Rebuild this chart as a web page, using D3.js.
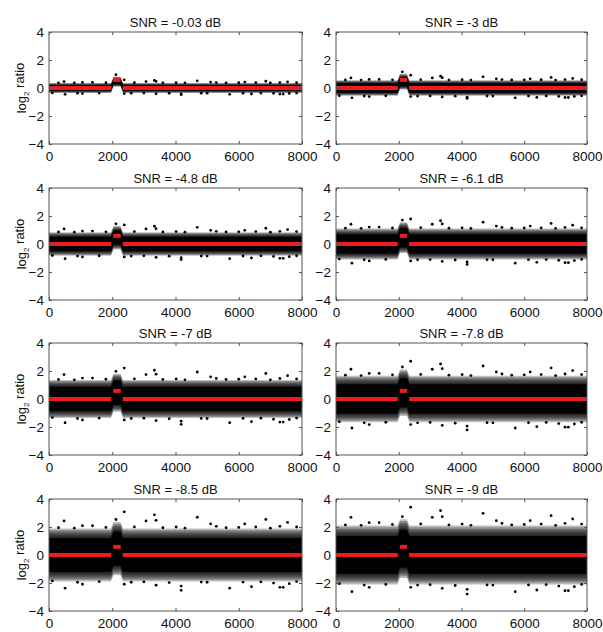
<!DOCTYPE html>
<html><head><meta charset="utf-8">
<script src="https://cdn.jsdelivr.net/npm/d3@7"></script>
<style>
body{margin:0;background:#fff}
text{font-family:"Liberation Sans",Arial,Helvetica,sans-serif}
</style>
</head><body>
<svg id="c" width="603" height="632"></svg>
<script>
// ---------- data ----------
const titles = ["SNR = -0.03 dB","SNR = -3 dB","SNR = -4.8 dB","SNR = -6.1 dB",
                "SNR = -7 dB","SNR = -7.8 dB","SNR = -8.5 dB","SNR = -9 dB"];
const xTicks = [0,2000,4000,6000,8000];
const yTicks = [-4,-2,0,2,4];
// segment means (red)
const segStart = [0,2000,2300];
const segEnd   = [2000,2300,8000];
const segLevel = [0,0.58,0];
// visible centre of the noise cloud along the position axis
const cloudX = [0,1960,2040,2260,2340,8000];
const cloudC = [0,0,0.45,0.45,0,0];
// half-width of dense noise cloud around its centre, per panel
const bandCore  = [0.20,0.34,0.52,0.70,0.88,1.05,1.22,1.36];
const bandOuter = [0.36,0.56,0.84,1.10,1.36,1.66,1.90,2.10];
// isolated points: [position, log2 ratio]
const outlierX = [476,1058,1375,2116,2380,3068,3333,3386,4020,4688,5110,5290,6190,6539,6856,7300,7544,7829,
                  300,800,1800,2700,3600,4300,5600,6000,7000,
                  508,1058,1587,2380,3386,4179,4179,4814,5713,6136,6401,7300,7406,7597,7829,106,
                  2600,3000,3800,5000,6700,900,7100];
const outlierY = [2.69,2.31,2.31,2.74,3.41,2.69,3.17,2.74,2.21,2.98,2.45,2.26,2.45,2.21,2.81,2.26,2.57,2.21,
                  2.15,2.12,2.18,2.22,2.15,2.12,2.15,2.18,2.12,
                  -2.62,-2.31,-2.10,-2.31,-2.38,-2.45,-2.79,-2.14,-2.62,-2.14,-2.50,-2.55,-2.55,-2.26,-2.10,-2.05,
                  -2.15,-2.12,-2.18,-2.15,-2.12,-2.15,-2.22];

// ---------- layout ----------
const colX = [49,336], colW = [253,251];
const rowY = [32,188,343,499], rowH = 112;
const svg = d3.select("#c");
const defs = svg.append("defs");
const nLayers = 6;

function levelAt(x){
  for(let i=0;i<segStart.length;i++) if(x>=segStart[i] && x<segEnd[i]) return segLevel[i];
  return segLevel[segLevel.length-1];
}

titles.forEach((t,p)=>{
  const col = p%2, row = Math.floor(p/2);
  const g = svg.append("g").attr("transform",`translate(${colX[col]},${rowY[row]})`);
  const W = colW[col];
  const x = d3.scaleLinear().domain([0,8000]).range([0,W]);
  const y = d3.scaleLinear().domain([-4,4]).range([rowH,0]);

  const clipId = "clip"+p;
  defs.append("clipPath").attr("id",clipId).append("rect").attr("width",W).attr("height",rowH);
  const plot = g.append("g").attr("clip-path",`url(#${clipId})`);

  const prof = cloudX.map((xv,i)=>({x:xv,c:cloudC[i]}));
  const band = w => d3.area().curve(d3.curveLinear)
    .x(d=>x(d.x)).y0(d=>y(d.c-w)).y1(d=>y(d.c+w))(prof);

  // fading fringe: stacked translucent layers
  for(let j=nLayers;j>=1;j--){
    const w = bandCore[p] + (bandOuter[p]-bandCore[p])*j/nLayers;
    plot.append("path").attr("d",band(w)).attr("fill","#000").attr("fill-opacity",0.26);
  }
  plot.append("path").attr("d",band(bandCore[p])).attr("fill","#000");

  // isolated points (scaled to this panel's spread)
  const k = bandOuter[p]/bandOuter[bandOuter.length-1];
  const pts = outlierX.map((xv,i)=>{
    const lv = levelAt(xv);
    return {x:xv, y: lv + (outlierY[i]-lv)*k};
  });
  plot.selectAll("circle.o").data(pts).enter().append("circle")
    .attr("cx",d=>x(d.x)).attr("cy",d=>y(d.y)).attr("r",1.4).attr("fill","#000");

  // red segment means
  plot.selectAll("line.seg").data(segLevel).enter().append("line")
    .attr("x1",(d,i)=>x(segStart[i])+(i>0?1:0)).attr("x2",(d,i)=>x(segEnd[i])-(i<segLevel.length-1?1:0))
    .attr("y1",d=>y(d)).attr("y2",d=>y(d))
    .attr("stroke","#ee1c1c").attr("stroke-width",4);

  // axes
  const axB = d3.axisBottom(x).tickValues(xTicks).tickSize(-3).tickPadding(7).tickFormat(d3.format("d"));
  const axT = d3.axisTop(x).tickValues(xTicks).tickSize(-3).tickFormat("");
  const axL = d3.axisLeft(y).tickValues(yTicks).tickSize(-3).tickPadding(5).tickFormat(d3.format("d"));
  const axR = d3.axisRight(y).tickValues(yTicks).tickSize(-3).tickFormat("");
  const gb = g.append("g").attr("transform",`translate(0,${rowH})`).call(axB);
  const gt = g.append("g").call(axT);
  const gl = g.append("g").call(axL);
  const grr = g.append("g").attr("transform",`translate(${W},0)`).call(axR);
  [gb,gt,gl,grr].forEach(a=>{
    a.select(".domain").remove();
    a.selectAll(".tick line").attr("stroke","#555");
    a.selectAll("text").attr("fill","#111").style("font-size","13.5px");
  });
  g.append("rect").attr("width",W).attr("height",rowH)
    .attr("fill","none").attr("stroke","#555").attr("stroke-width",1);

  // title
  g.append("text").attr("x",W/2).attr("y",-5).attr("text-anchor","middle")
    .style("font-size","13px").attr("fill","#111").text(t);

  // y label on left column
  if(col===0){
    const yl = g.append("text").attr("transform",`translate(-23,${rowH/2}) rotate(-90)`)
      .attr("text-anchor","middle").style("font-size","13px").attr("fill","#111");
    yl.append("tspan").text("log");
    yl.append("tspan").attr("dy","0.35em").style("font-size","8px").text("2");
    yl.append("tspan").attr("dy","-0.35em").text(" ratio");
  }
});
</script>
</body></html>
